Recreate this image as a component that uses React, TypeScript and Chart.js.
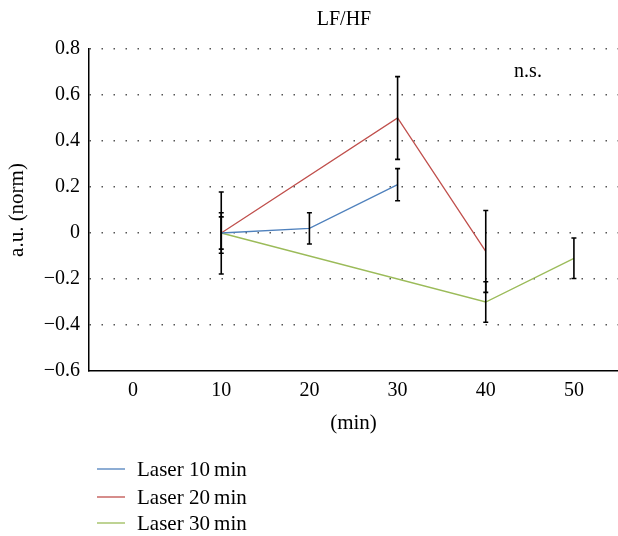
import React, { useEffect, useRef } from 'react';
import { Chart, registerables } from 'chart.js';
Chart.register(...registerables);

const FONT = '"Liberation Serif", "Times New Roman", serif';

const TITLE = 'LF/HF';
const NOTE = 'n.s.';
const X_TITLE = '(min)';
const Y_TITLE = 'a.u. (norm)';

const categories = ['0', '10', '20', '30', '40', '50'];
const seriesNames = ['Laser 10\u2009min', 'Laser 20\u2009min', 'Laser 30\u2009min'];
const seriesColors = ['#4f81bd', '#c0504d', '#9bbb59'];

const laser10 = [null, 0, 0.02, 0.21, null, null];
const laser20 = [null, 0, null, 0.5, -0.08, null];
const laser30 = [null, 0, null, null, -0.3, -0.11];

const err10 = [null, 0.07, 0.068, 0.07, null, null];
const err20 = [null, 0.178, null, 0.18, 0.178, null];
const err30 = [null, 0.088, null, null, 0.088, 0.088];

const Y_MIN = -0.6;
const Y_MAX = 0.8;
const Y_STEP = 0.2;

const errorBarPlugin = {
  id: 'errorBars',
  afterDatasetsDraw(chart: any) {
    const { ctx } = chart;
    const xs = chart.scales.x;
    const ys = chart.scales.y;
    ctx.save();
    ctx.strokeStyle = '#000';
    ctx.lineWidth = 1.6;
    chart.data.datasets.forEach((ds: any) => {
      ds.data.forEach((v: number | null, i: number) => {
        const e = ds.errors ? ds.errors[i] : null;
        if (v == null || e == null) return;
        const x = xs.getPixelForValue(i);
        const y1 = ys.getPixelForValue(v + e);
        const y2 = ys.getPixelForValue(v - e);
        ctx.beginPath();
        ctx.moveTo(x, y1);
        ctx.lineTo(x, y2);
        ctx.moveTo(x - 2.5, y1);
        ctx.lineTo(x + 2.5, y1);
        ctx.moveTo(x - 2.5, y2);
        ctx.lineTo(x + 2.5, y2);
        ctx.stroke();
      });
    });
    ctx.restore();
  },
};

const decorPlugin = {
  id: 'decor',
  afterDraw(chart: any) {
    const { ctx } = chart;
    ctx.save();
    ctx.fillStyle = '#000';
    ctx.font = `20px ${FONT}`;
    ctx.textBaseline = 'middle';
    ctx.textAlign = 'center';
    ctx.fillText(TITLE, 344, 20);
    ctx.fillText(NOTE, 528, 72);
    // legend
    ctx.font = `21px ${FONT}`;
    ctx.textAlign = 'left';
    const ys = [469, 497, 523];
    chart.data.datasets.forEach((ds: any, i: number) => {
      const y = ys[i];
      ctx.strokeStyle = ds.borderColor;
      ctx.lineWidth = 1.3;
      ctx.beginPath();
      ctx.moveTo(97, y);
      ctx.lineTo(125, y);
      ctx.stroke();
      ctx.fillText(ds.label, 137, y + 1);
    });
    ctx.restore();
  },
};

function fmt(v: number) {
  const r = Math.round(v * 10) / 10;
  if (Math.abs(r) < 1e-9) return '0';
  const s = Math.abs(r).toFixed(1);
  return r < 0 ? '\u2212' + s : s;
}

export default function App() {
  const ref = useRef<HTMLCanvasElement | null>(null);
  useEffect(() => {
    if (!ref.current) return;
    const series = [laser10, laser20, laser30];
    const errs = [err10, err20, err30];
    const chart = new Chart(ref.current, {
      type: 'line',
      data: {
        labels: categories,
        datasets: series.map((d, i) => ({
          label: seriesNames[i],
          data: d,
          errors: errs[i],
          borderColor: seriesColors[i],
          backgroundColor: seriesColors[i],
          borderWidth: 1.3,
          pointRadius: 0,
          spanGaps: true,
          tension: 0,
        })) as any,
      },
      options: {
        animation: false,
        responsive: true,
        maintainAspectRatio: false,
        layout: { padding: { top: 49, left: 0, right: 0, bottom: 100 } },
        font: { family: FONT, size: 20 },
        plugins: {
          legend: { display: false },
          title: { display: false },
          tooltip: { enabled: false },
        },
        scales: {
          x: {
            type: 'category',
            offset: true,
            grid: { display: false, drawTicks: false },
            border: { display: true, color: '#000', width: 1.5 },
            ticks: { color: '#000', padding: 8, font: { family: FONT, size: 20 }, maxRotation: 0 },
            title: { display: true, text: X_TITLE, color: '#000', font: { family: FONT, size: 21 }, padding: { top: 0, bottom: 0 } },
            afterFit(scale: any) { scale.height = 65; },
          },
          y: {
            min: Y_MIN,
            max: Y_MAX,
            grid: {
              display: true,
              drawTicks: false,
              color: (c: any) => (Math.abs(c.tick.value - Y_MIN) < 1e-6 ? 'rgba(0,0,0,0)' : '#555'),
              lineWidth: 1.5,
            },
            border: { display: true, color: '#000', width: 1.5, dash: [1.5, 10.5] as any },
            ticks: {
              stepSize: Y_STEP,
              color: '#000',
              padding: 9,
              font: { family: FONT, size: 20 },
              callback: (v: any) => fmt(Number(v)),
            },
            title: { display: true, text: Y_TITLE, color: '#000', font: { family: FONT, size: 21 }, padding: { top: 5, bottom: 0 } },
            afterFit(scale: any) { scale.width = 89; },
          },
        },
      } as any,
      plugins: [errorBarPlugin, decorPlugin],
    });
    return () => chart.destroy();
  }, []);
  return (
    <div style={{ position: 'absolute', left: 0, top: 0, width: 618, height: 536 }}>
      <canvas ref={ref} />
    </div>
  );
}
